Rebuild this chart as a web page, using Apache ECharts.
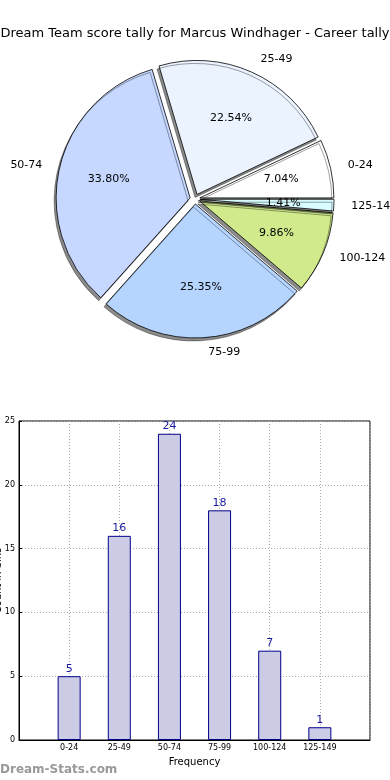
<!DOCTYPE html>
<html><head><meta charset="utf-8">
<script src="https://cdn.jsdelivr.net/npm/echarts@6/dist/echarts.min.js"></script>
<style>html,body{margin:0;padding:0;background:#fff}#c{width:390px;height:780px}</style>
</head><body><div id="c"></div>
<script>
const titleText = 'Dream Team score tally for Marcus Windhager - Career tally';
const categories = ['0-24','25-49','50-74','75-99','100-124','125-149'];
const counts = [5,16,24,18,7,1];
const pieColors = ['#ffffff','#ebf3ff','#c6d8ff','#b5d5ff','#d0ea8c','#d8fcff'];
const yTicks = [0,5,10,15,20,25];

const total = counts.reduce((a,b)=>a+b,0);
let cum = 0;
const mids = counts.map(v=>{const a0=cum; cum+=v/total*360; return (a0+cum)/2;});
const font = 'DejaVu Sans';
const ctx = document.createElement('canvas').getContext('2d');
ctx.font = '11px "DejaVu Sans"';
const textW = s => ctx.measureText(s).width;

const chart = echarts.init(document.getElementById('c'));
const C = [195,199], R = 134;

chart.setOption({
  animation:false,
  title:{text:titleText,left:'center',top:22,textStyle:{fontFamily:font,fontSize:13,fontWeight:'normal',color:'#000'}},
  graphic:[{type:'text',left:0,top:764,style:{text:'Dream-Stats.com',fill:'#999',font:'bold 12px "DejaVu Sans"'}}],
  grid:{left:19,right:20,top:421,bottom:40,containLabel:false,outerBoundsMode:'none',show:true,borderColor:'#000',borderWidth:1,backgroundColor:'transparent'},
  xAxis:{type:'value',min:-1,max:6,interval:1,
    name:'Frequency',nameLocation:'middle',nameGap:17,nameMoveOverlap:false,nameTextStyle:{fontFamily:font,fontSize:10,color:'#000'},
    axisLine:{show:true,onZero:false,lineStyle:{color:'#000'}},axisTick:{show:false},
    axisLabel:{fontFamily:font,fontSize:8,color:'#000',margin:4,formatter:v=>categories[v]||''},
    splitLine:{show:true,lineStyle:{type:[1,2],color:'#aaa'}}},
  yAxis:{type:'value',min:yTicks[0],max:yTicks[yTicks.length-1],interval:5,
    name:'Count in bins',nameLocation:'middle',nameGap:16,nameMoveOverlap:false,nameTextStyle:{fontFamily:font,fontSize:10,color:'#000'},
    axisLine:{show:true,onZero:false,lineStyle:{color:'#000'}},axisTick:{show:true,inside:true,length:3,lineStyle:{color:'#000'}},
    axisLabel:{fontFamily:font,fontSize:8,color:'#000',margin:4},
    splitLine:{show:true,lineStyle:{type:[1,2],color:'#aaa'}}},
  series:[
    {type:'bar',data:counts.map((v,i)=>[i,v]),barWidth:23,
      itemStyle:{color:'#cccce6',borderColor:'#00008b',borderWidth:1},
      label:{show:true,position:'top',distance:2,fontFamily:font,fontSize:11,color:'#1a1aa0'}},
    {type:'pie',z:2,center:C,radius:[0,R],startAngle:0,clockwise:false,selectedMode:'multiple',selectedOffset:5,
      silent:true,label:{show:false},labelLine:{show:false},
      itemStyle:{borderColor:'#000',borderWidth:0.8,shadowColor:'rgba(0,0,0,0.45)',shadowBlur:0,shadowOffsetX:-2,shadowOffsetY:3},
      data:categories.map((n,i)=>({name:n,value:counts[i],selected:true,itemStyle:{color:pieColors[i]}}))},
    {type:'pie',z:5,center:C,radius:[0.4*R+5,0.8*R+5],startAngle:0,clockwise:false,silent:true,
      itemStyle:{color:'rgba(0,0,0,0)'},labelLine:{show:false},
      label:{show:true,position:'inside',formatter:p=>p.percent.toFixed(2)+'%',fontFamily:font,fontSize:11,color:'#000'},
      data:categories.map((n,i)=>({name:n,value:counts[i]}))},
    {type:'pie',z:5,center:C,radius:[R+3,1.2*R+3],startAngle:0,clockwise:false,silent:true,
      itemStyle:{color:'rgba(0,0,0,0)'},labelLine:{show:false},
      label:{show:true,position:'inside',formatter:'{b}',fontFamily:font,fontSize:11,color:'#000'},
      data:categories.map((n,i)=>{
        const c = Math.cos(mids[i]*Math.PI/180);
        const w = textW(n)/2;
        return {name:n,value:counts[i],label:{offset:[c>0?w+3:-w-3,0]}};
      })}
  ]
});
</script></body></html>
